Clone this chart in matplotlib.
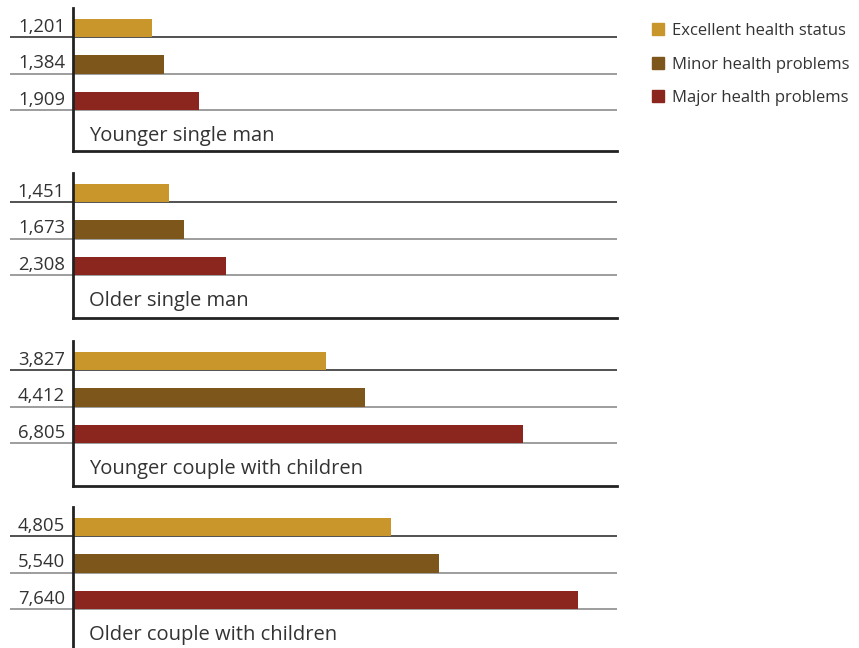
import matplotlib.pyplot as plt
from matplotlib.patches import Patch

plt.rcParams['font.family'] = ['Open Sans', 'DejaVu Sans']

groups = ['Younger single man', 'Older single man',
          'Younger couple with children', 'Older couple with children']
series = ['Excellent health status', 'Minor health problems', 'Major health problems']
colors = ['#C9962B', '#7D561C', '#8A261E']
values = [
    [1201, 1384, 1909],
    [1451, 1673, 2308],
    [3827, 4412, 6805],
    [4805, 5540, 7640],
]

W, H = 859, 648
fig = plt.figure(figsize=(W / 100, H / 100), dpi=100)

# pixel boxes for each group (top, bottom)
boxes = [(8, 151), (173, 318), (341, 486), (507, 650)]
left_px, right_px = 73, 617
xmax = 8230
px_per_unit = (right_px - left_px) / xmax
line_start = -(left_px - 10) / px_per_unit
text_x = -(left_px - 65) / px_per_unit
txt = '#333333'

for g, (top, bot) in enumerate(boxes):
    ax = fig.add_axes([left_px / W, 1 - bot / H, (right_px - left_px) / W, (bot - top) / H])
    pitch = 36.5
    ymax = (bot - top) / pitch
    ax.set_xlim(0, xmax)
    ax.set_ylim(ymax, 0)
    for i, v in enumerate(values[g]):
        ax.barh(i + 0.55, v, height=0.5, color=colors[i], zorder=2)
        lc = '#333333' if i == 0 else '#8c8c8c'
        ax.hlines(i + 0.8, line_start, xmax, color=lc, lw=1.2, clip_on=False, zorder=1)
        ax.text(text_x, i + 0.76, f'{v:,}', ha='right', va='bottom', fontsize=13.3, color=txt)
    ax.text(0.03 * xmax, 3.5, groups[g], ha='left', va='center', fontsize=14.5, color=txt)
    for s in ['top', 'right']:
        ax.spines[s].set_visible(False)
    ax.spines['left'].set_linewidth(2)
    ax.spines['bottom'].set_linewidth(2)
    ax.spines['left'].set_color('#222222')
    ax.spines['bottom'].set_color('#222222')
    ax.set_xticks([])
    ax.set_yticks([])

handles = [Patch(color=c, label=s) for c, s in zip(colors, series)]
fig.legend(handles=handles, loc='upper left', bbox_to_anchor=(637 / W, 1 - 8 / H),
           frameon=False, fontsize=12, handlelength=0.7, handleheight=0.7,
           handletextpad=0.5, labelspacing=1.05, labelcolor=txt)

fig.savefig('out.png', dpi=100)
